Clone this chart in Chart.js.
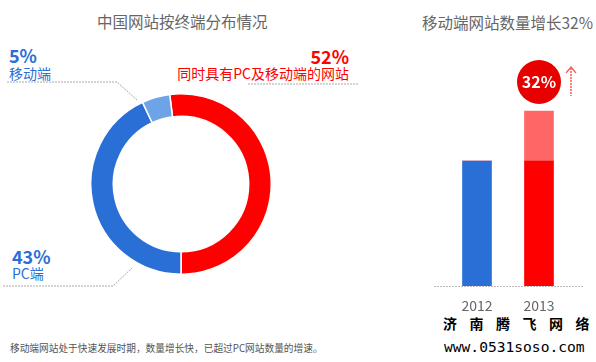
<!DOCTYPE html>
<html><head><meta charset="utf-8">
<script src="https://cdn.jsdelivr.net/npm/chart.js@4/dist/chart.umd.min.js"></script>
<style>
html,body{margin:0;padding:0;background:#fff;width:596px;height:362px;overflow:hidden;font-family:"Noto Sans CJK SC","Noto Sans",sans-serif;}
.t{position:absolute;white-space:nowrap;line-height:1;}
#donutWrap{position:absolute;left:90px;top:93px;width:182px;height:182px;}
#barWrap{position:absolute;left:420px;top:61px;width:176px;height:255px;}
svg{position:absolute;left:0;top:0;}
</style></head><body>
<div class="t" style="left:97px;top:14px;font-size:15.5px;color:#666;">中国网站按终端分布情况</div>
<div class="t" style="left:422px;top:15px;font-size:15.5px;color:#666;">移动端网站数量增长32%</div>

<div class="t" style="left:9px;top:46px;font-size:18px;font-weight:bold;color:#2a6fd6;">5%</div>
<div class="t" style="left:9px;top:66px;font-size:14px;color:#2a6fd6;">移动端</div>
<div class="t" style="right:247px;top:47px;font-size:18px;font-weight:bold;color:#f00;">52%</div>
<div class="t" style="right:247px;top:66px;font-size:14px;color:#f00;">同时具有PC及移动端的网站</div>
<div class="t" style="left:12px;top:247px;font-size:18px;font-weight:bold;color:#2a6fd6;">43%</div>
<div class="t" style="left:12px;top:266px;font-size:14px;color:#2a6fd6;">PC端</div>

<div class="t" style="left:10px;top:344px;font-size:9.7px;color:#555;">移动端网站处于快速发展时期，数量增长快，已超过PC网站数量的增速。</div>

<div class="t" style="left:443px;top:316px;font-size:14px;font-weight:bold;color:#000;letter-spacing:12.5px;">济南腾飞网络</div>
<div class="t" style="left:444px;top:340px;font-size:14.6px;color:#000;font-family:'DejaVu Sans Mono',monospace;">www.0531soso.com</div>

<svg width="596" height="362">
  <polyline points="7,82 117,82 137,100" fill="none" stroke="#aaa" stroke-width="1" stroke-dasharray="2,1"/>
  <polyline points="248,84 358,84" fill="none" stroke="#aaa" stroke-width="1" stroke-dasharray="2,1"/>
  <polyline points="3,286 113,286 132,268" fill="none" stroke="#aaa" stroke-width="1" stroke-dasharray="2,1"/>
  <line x1="434" y1="286.5" x2="583" y2="286.5" stroke="#bbb" stroke-width="1" stroke-dasharray="2,1"/>
  <line x1="571" y1="68" x2="571" y2="96" stroke="#f55" stroke-width="1.5" stroke-dasharray="2,1"/>
  <polyline points="566,73 571,67 576,73" fill="none" stroke="#f55" stroke-width="1.2"/>
</svg>

<div id="donutWrap"><canvas id="donut" width="182" height="182"></canvas></div>
<div id="barWrap"><canvas id="bar" width="176" height="255"></canvas></div>

<div style="position:absolute;left:517px;top:60px;width:44px;height:44px;border-radius:50%;background:#e80000;"></div>
<div class="t" style="left:517px;top:73px;width:44px;text-align:center;font-size:16px;font-weight:bold;color:#fff;">32%</div>

<script>
// Data
const shareLabels = ['同时具有PC及移动端的网站', 'PC端', '移动端'];
const shareValues = [52, 43, 5];
const shareColors = ['#ff0000', '#2a6fd6', '#6fa3e8'];

const years = ['2012', '2013'];
const baseValues = [100, 100];      // bar base height
const growthValues = [0, 40];       // added portion shown in light red
const baseColors = ['#2a6fd6', '#ff0000'];

Chart.defaults.animation = false;
Chart.defaults.font.family = '"Noto Sans CJK SC","Noto Sans",sans-serif';

new Chart(document.getElementById('donut'), {
  type: 'doughnut',
  data: { labels: shareLabels, datasets: [{ data: shareValues, backgroundColor: shareColors, borderColor: '#fff', borderWidth: 1.5, hoverOffset: 0 }] },
  options: {
    responsive: false, devicePixelRatio: 1,
    rotation: -7.2, cutout: '75%',
    layout: { padding: 0 },
    plugins: { legend: { display: false }, tooltip: { enabled: false } }
  }
});

new Chart(document.getElementById('bar'), {
  type: 'bar',
  data: { labels: years, datasets: [
    { data: baseValues, backgroundColor: baseColors, barThickness: 29 },
    { data: growthValues, backgroundColor: '#ff6666', barThickness: 29 }
  ] },
  options: {
    responsive: false, devicePixelRatio: 1,
    layout: { padding: { left: 26, right: 26, top: 0, bottom: 0 } },
    plugins: { legend: { display: false }, tooltip: { enabled: false } },
    scales: {
      x: { stacked: true, grid: { display: false }, border: { display: false },
           ticks: { color: '#666', font: { size: 14 }, padding: 3 },
           afterFit: s => { s.height = 30; } },
      y: { stacked: true, display: false, min: 0, max: 180 }
    }
  }
});
</script>
</body></html>
